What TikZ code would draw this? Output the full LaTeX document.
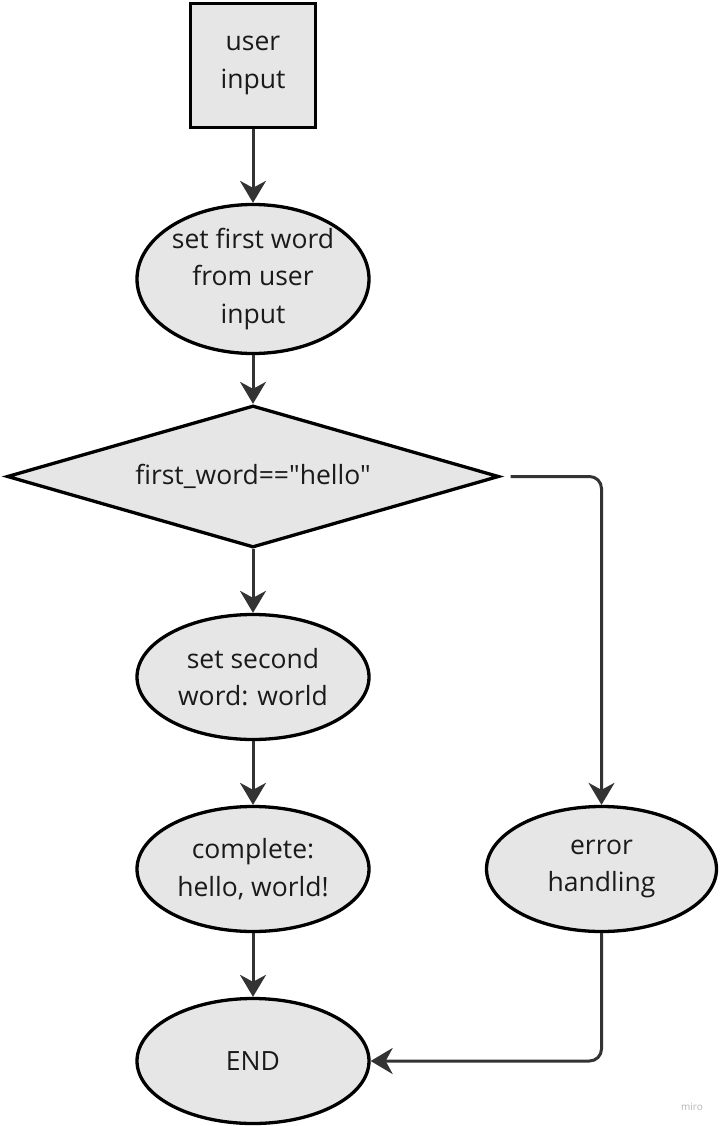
\documentclass[tikz,border=0pt]{standalone}
\usepackage{fontspec}
\setmainfont{Open Sans}
\newfontfamily\plainfont{Open Sans}
\usetikzlibrary{shapes.geometric,arrows.meta}
\definecolor{grey1}{HTML}{E6E6E6}
\definecolor{grey2}{HTML}{333333}
\definecolor{grey3}{HTML}{1A1A1A}
\definecolor{grey4}{HTML}{B4B4B4}

\tikzset{
  box/.style={draw=black, fill=grey1, line width=3.3pt, text=grey3, align=center,
    inner sep=0pt, font=\fontsize{26.5}{37.5}\selectfont},
  oval/.style={box, ellipse, minimum width=232pt, minimum height=125pt},
  link/.style={draw=grey2, line width=3pt,
    -{Stealth[length=22pt,width=26pt,inset=7pt]}}
}

\begin{document}
\begin{tikzpicture}[x=1pt,y=-1pt]
\useasboundingbox (0,0) rectangle (720,1126);
\node[box, minimum width=125pt, minimum height=124pt] (input) at (253,65.5) {user\\input};
\node[oval, minimum height=149pt] (first) at (253,279) {set first word\\from user\\input};
\node[box, diamond, aspect=3.46, minimum width=492pt, minimum height=142pt] (test) at (253,476.5) {\plainfont first\_word=="hello"};
\node[oval] (second) at (253,677) {set second\\word: world};
\node[oval] (done) at (253,869) {complete:\\hello, world!};
\node[oval, minimum width=230pt] (error) at (601.5,869) {error\\handling};
\node[oval] (end) at (253,1061) {END};
\node[text=grey4, font=\fontsize{10}{12}\selectfont] (miro) at (692,1107) {miro};

\draw[link] (input) -- (first);
\draw[link] (first) -- (test);
\draw[link] (test) -- (second);
\draw[link] (second) -- (done);
\draw[link] (done) -- (end);
\draw[link, rounded corners=12pt, shorten <=10pt] (test.east) -| (error.north);
\draw[link, rounded corners=12pt] (error.south) |- (end.east);
\end{tikzpicture}
\end{document}
